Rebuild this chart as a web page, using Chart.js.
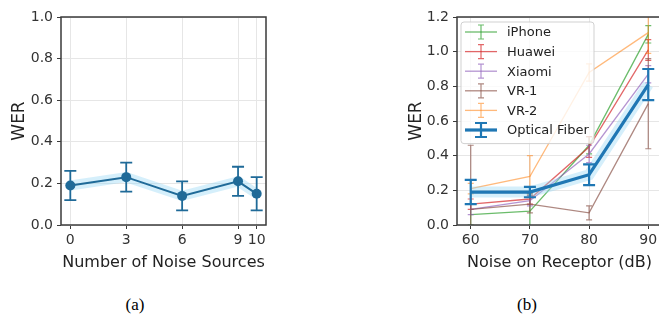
<!DOCTYPE html>
<html><head><meta charset="utf-8">
<script src="https://cdn.jsdelivr.net/npm/chart.js@4/dist/chart.umd.min.js"></script>
<style>
html,body{margin:0;padding:0;background:#fff;width:659px;height:320px;overflow:hidden;position:relative;}
#ca{position:absolute;left:0;top:0;}
#cb{position:absolute;left:330px;top:0;}
.cap{position:absolute;top:295px;font-family:"Liberation Serif",serif;font-size:17px;color:#000;transform:translateX(-50%);line-height:20px;}
</style></head><body>
<canvas id="ca" width="330" height="280"></canvas>
<canvas id="cb" width="340" height="280"></canvas>
<div class="cap" style="left:135px">(a)</div>
<div class="cap" style="left:527px">(b)</div>
<script>
// ---- (a) data ----
const noiseSources = [0, 3, 6, 9, 10];
const werA = [0.19, 0.23, 0.14, 0.21, 0.15];
const errA = [0.07, 0.07, 0.07, 0.07, 0.08];
const yTicksA = [0, 0.2, 0.4, 0.6, 0.8, 1.0];

// ---- (b) data ----
const receptorDb = [60, 70, 80, 90];
const seriesNames = ['iPhone', 'Huawei', 'Xiaomi', 'VR-1', 'VR-2', 'Optical Fiber'];
const werIphone = [0.06, 0.08, 0.46, 1.10];
const errIphone = [0.06, 0.10, 0.05, 0.05];
const werHuawei = [0.12, 0.15, 0.45, 1.01];
const errHuawei = [0.03, 0.03, 0.06, 0.06];
const werXiaomi = [0.09, 0.14, 0.41, 0.87];
const errXiaomi = [0.03, 0.03, 0.05, 0.05];
const werVR1 = [0.09, 0.12, 0.07, 0.70];
const errVR1 = [0.37, 0.05, 0.04, 0.26];
const werVR2 = [0.21, 0.28, 0.88, 1.11];
const errVR2 = [0.03, 0.12, 0.05, 0.12];
const werFiber = [0.19, 0.19, 0.29, 0.81];
const errFiber = [0.07, 0.03, 0.06, 0.09];
const yTicksB = [0, 0.2, 0.4, 0.6, 0.8, 1.0, 1.2];

const FONT = 'DejaVu Sans';
const pts = (xs, ys) => xs.map((x, i) => ({x: x, y: ys[i]}));

const errorBarPlugin = {
  id: 'errbars',
  afterDatasetDraw(chart, args) {
    const ds = chart.data.datasets[args.index];
    if (!ds.err) return;
    const ys = chart.scales.y, ctx = chart.ctx, a = chart.chartArea;
    ctx.save();
    ctx.beginPath(); ctx.rect(a.left, a.top, a.right - a.left, a.bottom - a.top); ctx.clip();
    ctx.strokeStyle = ds.errColor || ds.borderColor;
    ctx.lineWidth = ds.errWidth || 1;
    args.meta.data.forEach((pt, i) => {
      const v = ds.data[i].y, e = ds.err[i];
      const y1 = ys.getPixelForValue(v - e), y2 = ys.getPixelForValue(v + e);
      const x = pt.x, c = ds.capHalf || 3;
      ctx.beginPath();
      ctx.moveTo(x, y1); ctx.lineTo(x, y2);
      ctx.moveTo(x - c, y1); ctx.lineTo(x + c, y1);
      ctx.moveTo(x - c, y2); ctx.lineTo(x + c, y2);
      ctx.stroke();
    });
    ctx.restore();
  }
};

const framePlugin = {
  id: 'frame',
  afterDatasetsDraw(chart) {
    const a = chart.chartArea, ctx = chart.ctx;
    ctx.save();
    ctx.strokeStyle = '#3a3a3a';
    ctx.lineWidth = 1.5;
    ctx.strokeRect(a.left, a.top, a.right - a.left, a.bottom - a.top);
    ctx.restore();
  }
};

const inLegendPlugin = {
  id: 'inlegend',
  afterDraw(chart, args, opts) {
    if (!opts.show) return;
    const a = chart.chartArea, ctx = chart.ctx;
    const items = chart.data.datasets.filter(d => d.legendName);
    const rowH = 19.6, x0 = a.left + 4, y0 = a.top + 5, w = 133, h = rowH * items.length + 4;
    ctx.save();
    ctx.fillStyle = 'rgba(255,255,255,0.8)';
    ctx.strokeStyle = 'rgba(204,204,204,0.9)';
    ctx.lineWidth = 1;
    ctx.beginPath();
    ctx.roundRect(x0, y0, w, h, 3);
    ctx.fill(); ctx.stroke();
    items.forEach((d, i) => {
      const cy = y0 + 10 + i * rowH;
      const hx0 = a.left + 8, hx1 = a.left + 40, hm = (hx0 + hx1) / 2;
      ctx.strokeStyle = d.borderColor;
      ctx.lineWidth = d.borderWidth;
      ctx.beginPath(); ctx.moveTo(hx0, cy); ctx.lineTo(hx1, cy); ctx.stroke();
      ctx.strokeStyle = d.errColor || d.borderColor;
      ctx.lineWidth = d.errWidth;
      const c = d.capHalf, eh = 7;
      ctx.beginPath();
      ctx.moveTo(hm, cy - eh); ctx.lineTo(hm, cy + eh);
      ctx.moveTo(hm - c, cy - eh); ctx.lineTo(hm + c, cy - eh);
      ctx.moveTo(hm - c, cy + eh); ctx.lineTo(hm + c, cy + eh);
      ctx.stroke();
      ctx.fillStyle = '#222';
      ctx.font = '13px "' + FONT + '"';
      ctx.textBaseline = 'middle';
      ctx.fillText(d.legendName, a.left + 50, cy + 1);
    });
    ctx.restore();
  }
};

const commonGrid = {color: '#e6e6e6', lineWidth: 1, tickColor: '#3a3a3a', tickLength: 4, drawTicks: true};
const tickFont = {family: FONT, size: 14};
const titleFont = {family: FONT, size: 16};
const yTitleFont = {family: FONT, size: 17};

// ---- chart (a) ----
new Chart(document.getElementById('ca'), {
  type: 'line',
  data: {
    datasets: [
      {
        data: pts(noiseSources, werA), err: errA, errWidth: 1.8, capHalf: 6,
        borderColor: '#1f6a98', backgroundColor: '#1f6a98', borderWidth: 2,
        pointRadius: 5, pointBorderWidth: 0, pointBackgroundColor: '#1f6a98', order: 0
      },
      {
        data: pts(noiseSources, werA), borderColor: 'rgba(150,215,245,0.4)', borderWidth: 10,
        pointRadius: 0, order: 5
      }
    ]
  },
  options: {
    responsive: false, animation: false, devicePixelRatio: 1,
    layout: {padding: {left: 5, right: 64, top: 17, bottom: 8}},
    plugins: {legend: {display: false}, tooltip: {enabled: false}},
    scales: {
      x: {
        type: 'linear', min: -0.5, max: 10.5,
        afterBuildTicks: s => { s.ticks = noiseSources.map(v => ({value: v})); },
        grid: commonGrid, border: {display: false},
        ticks: {font: tickFont, color: '#333', padding: 3, maxRotation: 0, autoSkip: false},
        title: {display: true, text: 'Number of Noise Sources', font: titleFont, color: '#222', padding: {top: 1, bottom: 0}}
      },
      y: {
        type: 'linear', min: 0, max: 1,
        afterBuildTicks: s => { s.ticks = yTicksA.map(v => ({value: v})); },
        afterFit: s => { s.width = 56; },
        grid: commonGrid, border: {display: false},
        ticks: {font: tickFont, color: '#333', padding: 4, callback: v => v.toFixed(1)},
        title: {display: true, text: 'WER', font: yTitleFont, color: '#222', padding: {top: 4, bottom: 4}}
      }
    }
  },
  plugins: [errorBarPlugin, framePlugin]
});

// ---- chart (b) ----
const mk = (name, vals, errs, color, lw, ew, cap, order) => ({
  legendName: name, data: pts(receptorDb, vals), err: errs, errWidth: ew, capHalf: cap,
  borderColor: color, backgroundColor: color, borderWidth: lw, pointRadius: 0, order: order
});
new Chart(document.getElementById('cb'), {
  type: 'line',
  data: {
    datasets: [
      mk(seriesNames[0], werIphone, errIphone, 'rgba(44,160,44,0.7)', 1.3, 1.2, 3, 6),
      mk(seriesNames[1], werHuawei, errHuawei, 'rgba(214,39,40,0.7)', 1.3, 1.2, 3, 5),
      mk(seriesNames[2], werXiaomi, errXiaomi, 'rgba(148,103,189,0.7)', 1.3, 1.2, 3, 4),
      mk(seriesNames[3], werVR1, errVR1, 'rgba(140,86,75,0.7)', 1.3, 1.2, 3, 3),
      mk(seriesNames[4], werVR2, errVR2, 'rgba(255,127,14,0.55)', 1.3, 1.2, 3, 2),
      mk(seriesNames[5], werFiber, errFiber, '#1f77b4', 3.2, 2.2, 6, 0),
      {data: pts(receptorDb, werFiber), borderColor: 'rgba(150,215,245,0.4)', borderWidth: 11, pointRadius: 0, order: 1}
    ]
  },
  options: {
    responsive: false, animation: false, devicePixelRatio: 1,
    layout: {padding: {left: 72, right: 8, top: 17, bottom: 8}},
    plugins: {legend: {display: false}, tooltip: {enabled: false}, inlegend: {show: true}},
    scales: {
      x: {
        type: 'linear', min: 57.68, max: 92.32,
        afterBuildTicks: s => { s.ticks = receptorDb.map(v => ({value: v})); },
        grid: commonGrid, border: {display: false},
        ticks: {font: tickFont, color: '#333', padding: 3, maxRotation: 0, autoSkip: false},
        title: {display: true, text: 'Noise on Receptor (dB)', font: titleFont, color: '#222', padding: {top: 1, bottom: 0}}
      },
      y: {
        type: 'linear', min: 0, max: 1.2,
        afterBuildTicks: s => { s.ticks = yTicksB.map(v => ({value: v})); },
        afterFit: s => { s.width = 55; },
        grid: commonGrid, border: {display: false},
        ticks: {font: tickFont, color: '#333', padding: 4, callback: v => v.toFixed(1)},
        title: {display: true, text: 'WER', font: yTitleFont, color: '#222', padding: {top: 4, bottom: 4}}
      }
    }
  },
  plugins: [errorBarPlugin, framePlugin, inLegendPlugin]
});
</script>
</body></html>
